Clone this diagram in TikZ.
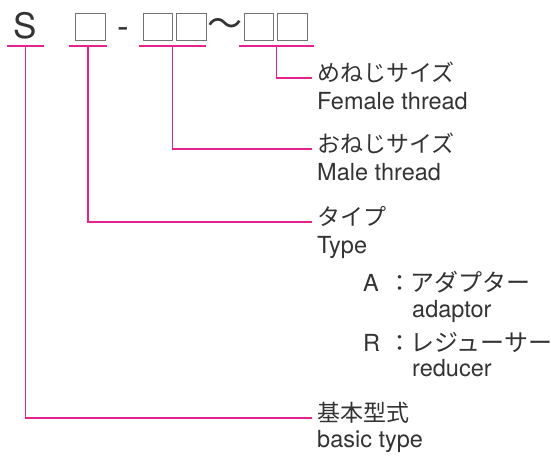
\documentclass[tikz,border=0pt]{standalone}
\usepackage{fontspec}
\setmainfont{TeX Gyre Heros}
\newfontfamily\jpfont{Noto Sans CJK JP}
\usetikzlibrary{positioning,calc}
\definecolor{leadpink}{RGB}{230,35,140}
\definecolor{txtgray}{RGB}{51,51,51}

\begin{document}
\begin{tikzpicture}[
    x=1pt, y=-1pt,
    font=\fontsize{23.5}{26}\selectfont, text=txtgray,
    code/.style={font=\fontsize{35}{40}\selectfont, inner sep=0pt},
    cbox/.style={draw, black!55, line width=0.9pt, minimum width=29.5pt,
                 minimum height=27pt, inner sep=0pt},
    lead/.style={leadpink, line width=1.3pt},
    jp/.style={anchor=west, inner xsep=5pt, inner ysep=0pt,
               text height=0.88em, text depth=0.12em,
               font=\jpfont\fontsize{23}{26}\selectfont},
    en/.style={anchor=west, inner xsep=5pt, inner ysep=0pt,
               text height=0.72em, text depth=0pt},
  ]
  \useasboundingbox (0,0) rectangle (551,456);

  % --- model code ---
  \node[code, anchor=base] (s) at (25.5,38) {S};
  \node[cbox] (b1) at (90.5,26.5) {};
  \node[code, anchor=base] (hy) at (123,38) {-};
  \node[cbox] (b2) at (158,26.5) {};
  \node[cbox, right=3pt of b2] (b3) {};
  \node[code, font=\jpfont\fontsize{35}{40}\selectfont] (wave) at (225,27.5) {〜};
  \node[cbox] (b4) at (259,26.5) {};
  \node[cbox, right=3pt of b4] (b5) {};

  % --- underlines ---
  \coordinate (s-l) at (7,46);   \coordinate (s-r) at (44,46);
  \coordinate (t-l) at (69,46);  \coordinate (t-r) at (107,46);
  \coordinate (m-l) at (139,46); \coordinate (m-r) at (206,46);
  \coordinate (f-l) at (239,46); \coordinate (f-r) at (314,46);
  \foreach \u in {s,t,m,f}
    \draw[lead] (\u-l) -- (\u-r);

  % --- labels ---
  \node[jp] (lfem) at (312,78) {めねじサイズ};
  \node[en] (efem) at ($(lfem.west)+(0,28)$) {Female thread};
  \node[jp] (lmal) at (312,149) {おねじサイズ};
  \node[en] (emal) at ($(lmal.west)+(0,28)$) {Male thread};
  \node[jp] (ltyp) at (312,222) {タイプ};
  \node[en] (etyp) at ($(ltyp.west)+(0,27.5)$) {Type};
  \node[jp] (lbas) at (312,418) {基本型式};
  \node[en] (ebas) at ($(lbas.west)+(0,26)$) {basic type};

  % type codes
  \node[en, inner xsep=0pt] (ka) at (363,288) {A};
  \node[jp, anchor=center, inner xsep=0pt] (ca) at (400,288) {：};
  \node[jp, inner xsep=0pt, font=\jpfont\fontsize{24}{26}\selectfont] (ja) at (410,288) {アダプター};
  \node[en, inner xsep=0pt] (ea) at ($(ja.west)+(2,26)$) {adaptor};
  \node[en, inner xsep=0pt] (kr) at (363,348) {R};
  \node[jp, anchor=center, inner xsep=0pt] (cr) at (400,348) {：};
  \node[jp, inner xsep=0pt, font=\jpfont\fontsize{24}{26}\selectfont] (jr) at (410,348) {レジューサー};
  \node[en, inner xsep=0pt] (er) at ($(jr.west)+(2,25)$) {reducer};

  % --- leaders ---
  \draw[lead] ($(f-l)!0.5!(f-r)$) |- (lfem.west);
  \draw[lead] ($(m-l)!0.5!(m-r)$) |- (lmal.west);
  \draw[lead] ($(t-l)!0.5!(t-r)$) |- (ltyp.west);
  \draw[lead] ($(s-l)!0.5!(s-r)$) |- (lbas.west);
\end{tikzpicture}
\end{document}
